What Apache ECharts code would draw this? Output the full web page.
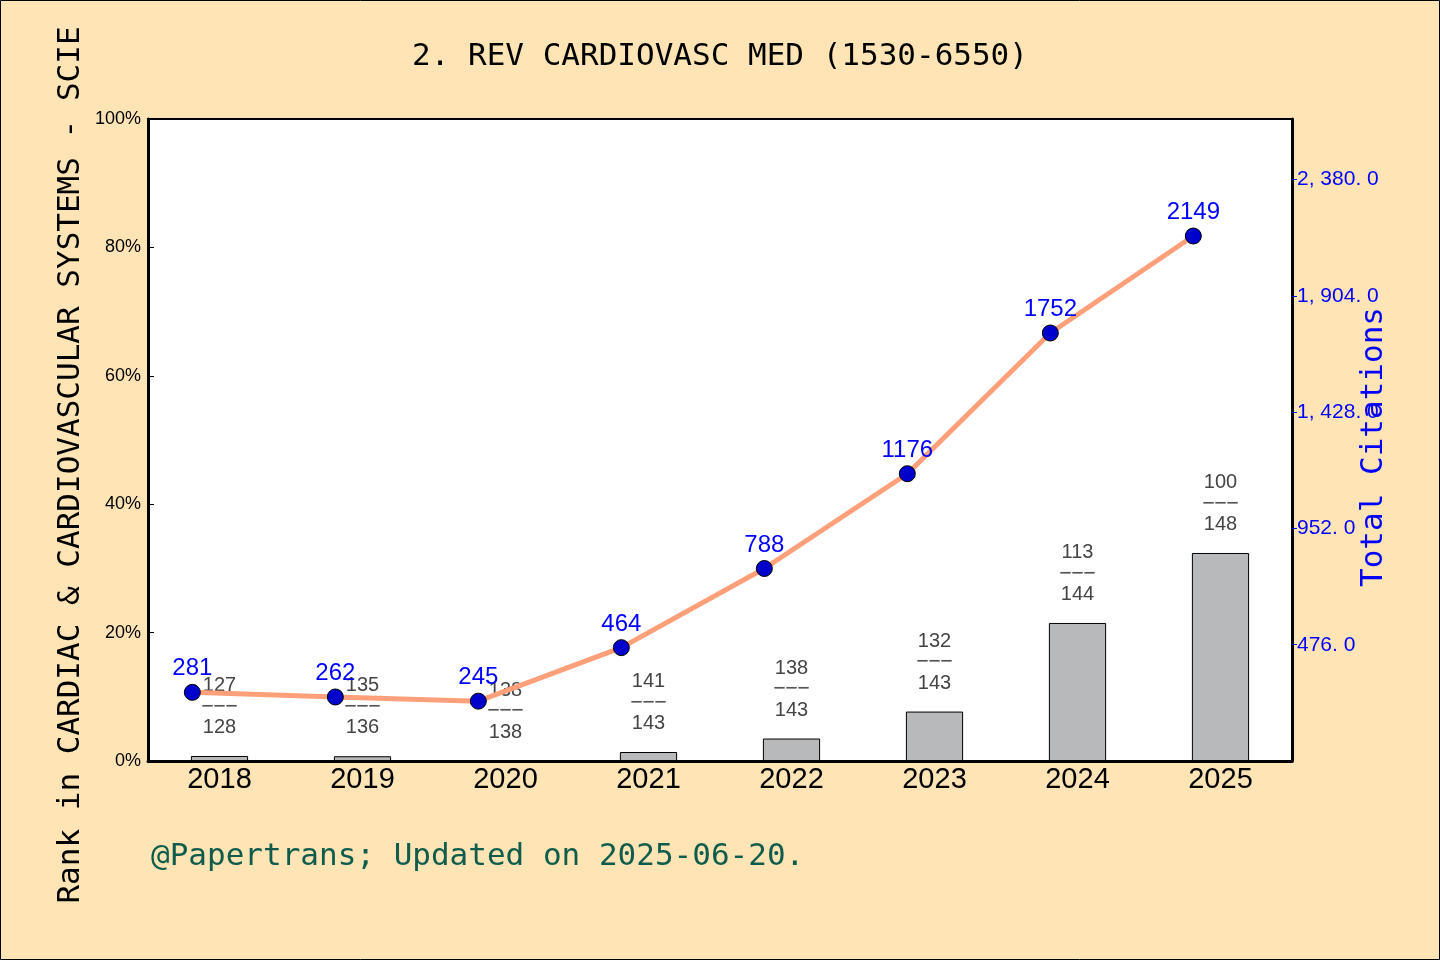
<!DOCTYPE html>
<html>
<head>
<meta charset="utf-8">
<script src="https://cdn.jsdelivr.net/npm/echarts@6/dist/echarts.min.js"></script>
<style>
  html, body { margin: 0; padding: 0; background: #FFE4B5; }
  #main { width: 1440px; height: 960px; }
</style>
</head>
<body>
<div id="main"></div>
<script>
// values
var years = ["2018", "2019", "2020", "2021", "2022", "2023", "2024", "2025"];
var citations = [281, 262, 245, 464, 788, 1176, 1752, 2149];
var ranks = [127, 135, 138, 141, 138, 132, 113, 100];
var totals = [128, 136, 138, 143, 143, 143, 144, 148];
var rankPercent = [0.78, 0.74, 0, 1.4, 3.5, 7.7, 21.5, 32.4];

var monoFont = "DejaVu Sans Mono";
var numFont = "Liberation Sans";

var chart = echarts.init(document.getElementById("main"));

// line sits a bit left of the bar centres
var lineData = citations.map(function (v, i) {
  return [i - 0.19, v];
});

var option = {
  backgroundColor: "#FFE4B5",
  animation: false,
  title: [
    {
      text: "2. REV CARDIOVASC MED (1530-6550)",
      left: "center",
      top: 36,
      textStyle: { fontFamily: monoFont, fontSize: 31, fontWeight: "normal", color: "#000" }
    },
    {
      text: "@Papertrans; Updated on 2025-06-20.",
      left: 146,
      top: 836,
      textStyle: { fontFamily: monoFont, fontSize: 31, fontWeight: "normal", color: "#0f5c4c" }
    }
  ],
  graphic: [
    {
      type: "rect",
      shape: { x: 0.5, y: 0.5, width: 1439, height: 959 },
      style: { fill: null, stroke: "#000", lineWidth: 1 },
      silent: true
    }
  ],
  grid: {
    left: 148,
    right: 148,
    top: 119,
    bottom: 199,
    show: true,
    backgroundColor: "#fff",
    borderColor: "#000",
    borderWidth: 2
  },
  xAxis: [
    {
      type: "category",
      data: years,
      axisLine: { lineStyle: { color: "#000", width: 3 } },
      axisTick: { inside: true, length: 5, lineStyle: { color: "#000", width: 1 } },
      axisLabel: { fontFamily: numFont, fontSize: 29, color: "#000", margin: 4 }
    },
    {
      type: "value",
      min: -0.5,
      max: 7.5,
      show: false
    }
  ],
  yAxis: [
    {
      type: "value",
      min: 0,
      max: 100,
      interval: 20,
      name: "Rank in CARDIAC & CARDIOVASCULAR SYSTEMS - SCIE",
      nameLocation: "middle",
      nameRotate: 90,
      nameGap: 62,
      nameMoveOverlap: false,
      nameTextStyle: { fontFamily: monoFont, fontSize: 31, color: "#000", padding: [0, 50, 0, 0] },
      splitLine: { show: false },
      axisLine: { show: true, onZero: false, lineStyle: { color: "#000", width: 3 } },
      axisTick: { show: true, inside: true, length: 6, lineStyle: { color: "#000" } },
      axisLabel: { formatter: "{value}%", fontFamily: numFont, fontSize: 18, color: "#000", margin: 7 }
    },
    {
      type: "value",
      min: 0,
      max: 2628,
      interval: 476,
      position: "right",
      name: "Total Citations",
      nameLocation: "middle",
      nameRotate: 90,
      nameGap: 66,
      nameMoveOverlap: false,
      nameTextStyle: { fontFamily: monoFont, fontSize: 31, color: "#0000ff", padding: [0, 14, 0, 0] },
      splitLine: { show: false },
      axisLine: { show: true, onZero: false, lineStyle: { color: "#000", width: 3 } },
      axisTick: { show: true, length: 5, lineStyle: { color: "#0000ff" } },
      axisLabel: {
        showMinLabel: false,
        showMaxLabel: false,
        fontFamily: numFont,
        fontSize: 21,
        color: "#0000ff",
        margin: 5,
        formatter: function (v) {
          return v.toLocaleString("en-US", { minimumFractionDigits: 1, maximumFractionDigits: 1 })
            .replace(",", ", ").replace(".", ". ");
        }
      }
    }
  ],
  series: [
    {
      type: "bar",
      xAxisIndex: 0,
      yAxisIndex: 0,
      data: rankPercent,
      barWidth: "40%",
      itemStyle: { color: "#b8b9ba", borderColor: "#000", borderWidth: 1 },
      label: {
        show: true,
        position: "top",
        distance: 18,
        fontFamily: numFont,
        fontSize: 20,
        lineHeight: 21,
        color: "#444",
        align: "center",
        formatter: function (p) {
          return ranks[p.dataIndex] + "\n{d|\u2212\u2212\u2212}\n" + totals[p.dataIndex];
        },
        rich: {
          d: { fontFamily: monoFont, fontSize: 20, lineHeight: 21, color: "#555" }
        }
      },
      z: 2
    },
    {
      type: "line",
      xAxisIndex: 1,
      yAxisIndex: 1,
      data: lineData,
      lineStyle: { color: "#FFA07A", width: 5 },
      symbol: "circle",
      symbolSize: 16,
      itemStyle: { color: "#0000CD", borderColor: "#000", borderWidth: 1 },
      label: {
        show: true,
        position: "top",
        distance: 3,
        fontFamily: numFont,
        fontSize: 24,
        color: "#0000ff",
        formatter: function (p) {
          return p.value[1];
        }
      },
      z: 3
    }
  ]
};

chart.setOption(option);
</script>
</body>
</html>
